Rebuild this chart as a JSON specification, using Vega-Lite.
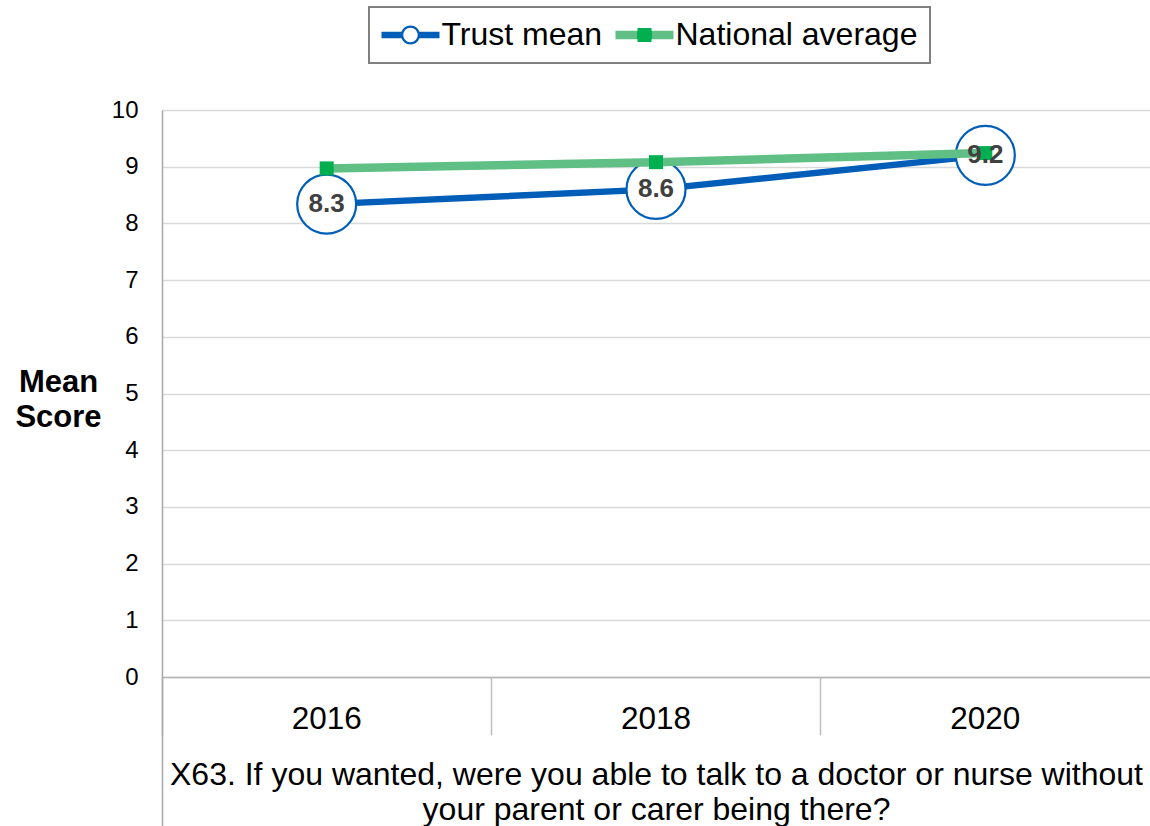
{
  "$schema": "https://vega.github.io/schema/vega-lite/v6.json",
  "width": 988,
  "height": 567,
  "autosize": {"type": "none"},
  "padding": {"left": 162, "top": 110, "right": 0, "bottom": 149},
  "background": "white",
  "config": {
    "font": "Liberation Sans",
    "view": {"stroke": null}
  },
  "data": {
    "values": [
      {"year": "2016", "series": "Trust mean", "value": 8.34},
      {"year": "2018", "series": "Trust mean", "value": 8.6},
      {"year": "2020", "series": "Trust mean", "value": 9.2},
      {"year": "2016", "series": "National average", "value": 8.97},
      {"year": "2018", "series": "National average", "value": 9.08},
      {"year": "2020", "series": "National average", "value": 9.24}
    ]
  },
  "encoding": {
    "x": {
      "field": "year", "type": "nominal",
      "scale": {"type": "band", "domain": ["2016", "2018", "2020"], "paddingInner": 0, "paddingOuter": 0},
      "axis": null
    },
    "y": {
      "field": "value", "type": "quantitative",
      "scale": {"domain": [0, 10], "nice": false, "zero": true},
      "axis": {
        "title": ["Mean", "Score"], "titleAngle": 0, "titleAlign": "center", "titleBaseline": "alphabetic",
        "titleX": -104, "titleY": 281, "titleFontSize": 31, "titleFontWeight": "bold", "titleColor": "#000000", "titleLineHeight": 35,
        "values": [0, 1, 2, 3, 4, 5, 6, 7, 8, 9, 10],
        "labelFontSize": 24, "labelColor": "#000000", "labelPadding": 24, "labelBaseline": "middle",
        "ticks": false, "tickSize": 0, "domainColor": "#a6a6a6", "domainWidth": 1.5,
        "grid": true, "gridColor": "#d9d9d9", "gridWidth": 1.3
      }
    }
  },
  "layer": [
    {
      "transform": [{"filter": "datum.series === 'Trust mean'"}],
      "mark": {"type": "line", "strokeWidth": 6.5},
      "encoding": {
        "x": {
          "field": "year", "type": "nominal",
          "scale": {"type": "band", "domain": ["2016", "2018", "2020"], "paddingInner": 0, "paddingOuter": 0},
          "axis": {
            "orient": "bottom", "offset": 0,
            "title": ["X63. If you wanted, were you able to talk to a doctor or nurse without", "your parent or carer being there?"],
            "titleFontSize": 32, "titleFontWeight": "normal", "titleColor": "#000000",
            "titleX": 494, "titleY": 107, "titleAlign": "center", "titleBaseline": "alphabetic", "titleLineHeight": 35,
            "labelFontSize": 31.5, "labelColor": "#000000", "labelAngle": 0, "labelBaseline": "alphabetic", "labelPadding": 51,
            "ticks": false, "tickSize": 0, "domainColor": "#b3b3b3", "domainWidth": 1.5, "grid": false
          }
        },
        "color": {
          "field": "series", "type": "nominal",
          "scale": {"domain": ["Trust mean", "National average"], "range": ["#005eb8", "#5fbf84"]},
          "legend": {
            "orient": "none", "legendX": 207, "legendY": -103, "direction": "horizontal", "title": null,
            "labelFontSize": 32, "labelColor": "#000000", "labelFont": "Liberation Sans", "labelLimit": 0,
            "symbolSize": 400, "symbolStrokeWidth": 0, "symbolOffset": 13.5, "labelOffset": 15,
            "columnPadding": 12, "padding": 12, "fillColor": "white", "strokeColor": "#808080",
            "encode": {
              "legend": {"update": {"strokeWidth": {"value": 2}}},
              "symbols": {
                "update": {
                  "shape": [
                    {"test": "datum.value === 'Trust mean'", "value": "M-2.9,-0.32H-0.85V0.32H-2.9Z M0.85,-0.32H2.9V0.32H0.85Z M0,-0.95A0.95,0.95 0 1,1 0,0.95A0.95,0.95 0 1,1 0,-0.95Z M0,-0.72A0.72,0.72 0 1,0 0,0.72A0.72,0.72 0 1,0 0,-0.72Z"},
                    {"value": "M-2.9,-0.42H2.9V0.42H-2.9Z M-0.7,-0.7H0.7V0.7H-0.7Z"}
                  ],
                  "fill": [
                    {"test": "datum.value === 'Trust mean'", "value": "#005eb8"},
                    {"value": {"gradient": "linear", "x1": 0, "y1": 0, "x2": 1, "y2": 0, "stops": [
                      {"offset": 0, "color": "#5fbf84"}, {"offset": 0.379, "color": "#5fbf84"},
                      {"offset": 0.379, "color": "#00b050"}, {"offset": 0.621, "color": "#00b050"},
                      {"offset": 0.621, "color": "#5fbf84"}, {"offset": 1, "color": "#5fbf84"}]}}
                  ],
                  "stroke": {"value": "transparent"},
                  "strokeWidth": {"value": 0},
                  "size": {"value": 400},
                  "opacity": {"value": 1}
                }
              }
            }
          }
        }
      }
    },
    {
      "transform": [{"filter": "datum.series === 'Trust mean'"}],
      "mark": {"type": "point", "shape": "circle", "size": 3481, "filled": true, "fill": "white", "stroke": "#005eb8", "strokeWidth": 2.2, "opacity": 1, "fillOpacity": 1}
    },
    {
      "transform": [{"filter": "datum.series === 'National average'"}],
      "mark": {"type": "line", "strokeWidth": 8.5},
      "encoding": {
        "x": {
          "field": "year", "type": "nominal",
          "scale": {"type": "band", "domain": ["2016", "2018", "2020"], "paddingInner": 0, "paddingOuter": 0},
          "axis": {"orient": "bottom", "offset": 0, "bandPosition": 0, "labels": false, "title": null, "domain": false, "grid": false, "ticks": true, "tickSize": 58, "tickColor": "#bfbfbf", "tickWidth": 1.5}
        },
        "color": {"field": "series", "type": "nominal", "scale": {"domain": ["Trust mean", "National average"], "range": ["#005eb8", "#5fbf84"]}, "legend": null}
      }
    },
    {
      "transform": [{"filter": "datum.series === 'National average'"}],
      "mark": {"type": "point", "shape": "square", "size": 196, "filled": true, "color": "#00b050", "opacity": 1},
      "encoding": {
        "x": {
          "field": "year", "type": "nominal",
          "scale": {"type": "band", "domain": ["2016", "2018", "2020"], "paddingInner": 0, "paddingOuter": 0},
          "axis": {"orient": "bottom", "offset": 0, "bandPosition": 0, "values": ["2016"], "labels": false, "title": null, "domain": false, "grid": false, "ticks": true, "tickSize": 149, "tickColor": "#a6a6a6", "tickWidth": 1.5}
        }
      }
    },
    {
      "transform": [{"filter": "datum.series === 'Trust mean'"}],
      "mark": {"type": "text", "fontSize": 26, "fontWeight": "bold", "color": "#404040", "baseline": "middle", "align": "center"},
      "encoding": {
        "text": {"field": "value", "type": "quantitative", "format": ".1f"}
      }
    }
  ],
  "resolve": {"axis": {"x": "independent"}}
}
